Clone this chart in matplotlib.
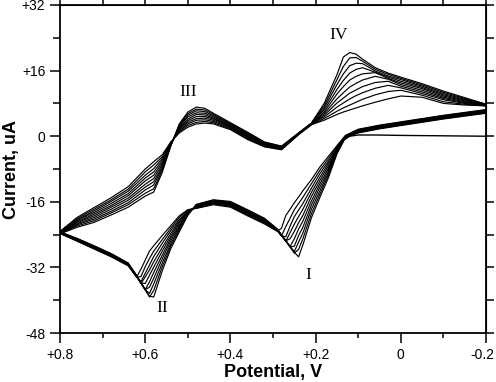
import numpy as np
import matplotlib.pyplot as plt
import matplotlib.transforms as mtransforms
from matplotlib.ticker import MultipleLocator, FixedLocator

# potential grids (V)
upper_V = [0.80, 0.76, 0.72, 0.68, 0.64, 0.60, 0.58, 0.56, 0.54, 0.52, 0.50,
           0.48, 0.46, 0.44, 0.40, 0.36, 0.32, 0.28, 0.24, 0.21, 0.18, 0.15,
           0.135, 0.12, 0.105, 0.09, 0.06, 0.03, 0.00, -0.05, -0.10, -0.15,
           -0.20]
lower_V = [-0.20, -0.15, -0.10, -0.05, 0.00, 0.05, 0.10, 0.13, 0.15, 0.17,
           0.19, 0.21, 0.23, 0.24, 0.25, 0.26, 0.27, 0.28, 0.29, 0.32, 0.36,
           0.40, 0.44, 0.48, 0.50, 0.52, 0.54, 0.56, 0.58, 0.59, 0.60, 0.61,
           0.62, 0.64, 0.68, 0.72, 0.76, 0.80]

# current (uA), one row per potential, one column per cycle
upper_I = [
    [-23.8, -23.7, -23.6, -23.5, -23.5, -23.4, -23.4, -23.3, -23.3, -23.2],
    [-22.2, -21.9, -21.6, -21.4, -21.1, -20.9, -20.6, -20.4, -20.1, -19.8],
    [-21.0, -20.6, -20.2, -19.8, -19.4, -19.0, -18.6, -18.2, -17.8, -17.4],
    [-19.2, -18.7, -18.3, -17.8, -17.3, -16.9, -16.4, -15.9, -15.5, -15.0],
    [-17.3, -16.7, -16.2, -15.6, -15.1, -14.5, -14.0, -13.4, -12.9, -12.3],
    [-14.6, -13.9, -13.1, -12.4, -11.7, -10.9, -10.2, -9.5, -8.7, -8.0],
    [-13.6, -12.8, -11.9, -11.1, -10.3, -9.5, -8.7, -7.9, -7.0, -6.2],
    [-8.8, -8.3, -7.8, -7.4, -6.9, -6.4, -5.9, -5.4, -5.0, -4.5],
    [-2.4, -2.3, -2.2, -2.1, -2.0, -1.9, -1.8, -1.7, -1.5, -1.4],
    [3.0, 2.8, 2.5, 2.3, 2.0, 1.8, 1.6, 1.3, 1.1, 0.8],
    [5.9, 5.5, 5.1, 4.7, 4.2, 3.8, 3.4, 3.0, 2.6, 2.2],
    [7.1, 6.6, 6.2, 5.7, 5.3, 4.8, 4.3, 3.9, 3.4, 3.0],
    [6.8, 6.4, 6.0, 5.6, 5.2, 4.8, 4.4, 4.0, 3.6, 3.2],
    [5.6, 5.3, 5.0, 4.7, 4.4, 4.2, 3.9, 3.6, 3.3, 3.0],
    [3.3, 3.1, 2.9, 2.7, 2.5, 2.4, 2.2, 2.0, 1.8, 1.6],
    [1.0, 0.8, 0.6, 0.4, 0.2, 0.0, -0.2, -0.4, -0.6, -0.8],
    [-1.4, -1.5, -1.7, -1.8, -1.9, -2.1, -2.2, -2.3, -2.5, -2.6],
    [-2.4, -2.5, -2.6, -2.7, -2.8, -2.9, -3.0, -3.1, -3.2, -3.3],
    [0.8, 0.8, 0.7, 0.7, 0.6, 0.6, 0.5, 0.5, 0.4, 0.4],
    [3.2, 3.2, 3.1, 3.1, 3.0, 3.0, 2.9, 2.9, 2.8, 2.8],
    [8.0, 7.4, 6.9, 6.4, 5.9, 5.5, 5.1, 4.7, 4.3, 3.9],
    [15.0, 13.8, 12.6, 11.4, 10.3, 9.1, 8.1, 7.1, 6.1, 5.3],
    [19.3, 17.0, 15.2, 13.6, 12.1, 10.6, 9.3, 8.1, 6.9, 5.9],
    [20.4, 19.1, 17.2, 15.4, 13.7, 12.0, 10.5, 9.1, 7.6, 6.4],
    [20.0, 19.2, 17.8, 16.3, 14.6, 12.9, 11.3, 9.9, 8.3, 6.9],
    [18.8, 18.3, 17.7, 16.7, 15.2, 13.7, 12.1, 10.6, 9.0, 7.4],
    [16.7, 16.3, 15.9, 15.6, 15.5, 14.6, 13.1, 11.7, 10.1, 8.3],
    [15.4, 15.1, 14.7, 14.4, 14.1, 13.9, 13.4, 12.4, 10.9, 9.1],
    [14.4, 14.1, 13.8, 13.4, 13.0, 12.6, 12.2, 11.8, 11.2, 9.8],
    [12.8, 12.5, 12.2, 11.9, 11.6, 11.2, 10.8, 10.4, 10.0, 9.5],
    [11.0, 10.7, 10.4, 10.1, 9.8, 9.5, 9.2, 8.9, 8.4, 8.0],
    [9.4, 9.2, 9.0, 8.8, 8.6, 8.4, 8.2, 8.0, 7.8, 7.6],
    [7.8, 7.8, 7.7, 7.7, 7.6, 7.6, 7.5, 7.5, 7.4, 7.4],
]
lower_I = [
    [5.6, 5.7, 5.8, 5.9, 6.0, 6.1, 6.2, 6.3, 6.4, 6.5],
    [4.9, 5.0, 5.1, 5.2, 5.3, 5.4, 5.5, 5.6, 5.7, 5.8],
    [4.2, 4.3, 4.4, 4.5, 4.6, 4.7, 4.8, 4.9, 5.0, 5.1],
    [3.4, 3.5, 3.6, 3.7, 3.8, 3.9, 4.0, 4.1, 4.2, 4.3],
    [2.6, 2.7, 2.8, 2.9, 3.0, 3.1, 3.2, 3.3, 3.4, 3.5],
    [1.8, 1.9, 2.0, 2.1, 2.2, 2.3, 2.4, 2.5, 2.6, 2.7],
    [0.8, 0.9, 1.0, 1.1, 1.2, 1.3, 1.4, 1.5, 1.6, 1.7],
    [-0.3, -0.2, -0.2, -0.1, -0.1, 0.0, 0.0, 0.1, 0.1, 0.2],
    [-4.3, -4.1, -3.8, -3.6, -3.4, -3.2, -3.0, -2.8, -2.5, -2.3],
    [-10.1, -9.5, -8.9, -8.4, -7.8, -7.2, -6.6, -6.1, -5.5, -4.9],
    [-14.9, -14.1, -13.3, -12.4, -11.6, -10.8, -10.0, -9.1, -8.3, -7.5],
    [-19.9, -18.9, -17.8, -16.8, -15.8, -14.7, -13.7, -12.7, -11.6, -10.6],
    [-26.5, -25.0, -23.6, -22.2, -20.7, -19.3, -17.8, -16.4, -14.9, -13.3],
    [-29.4, -27.6, -25.8, -24.2, -22.6, -21.1, -19.6, -18.0, -16.4, -14.8],
    [-28.3, -28.5, -28.1, -26.8, -25.0, -23.2, -21.4, -19.6, -17.9, -16.2],
    [-26.9, -27.0, -27.0, -27.0, -26.9, -25.0, -23.5, -21.9, -20.0, -17.8],
    [-25.5, -25.5, -25.5, -25.5, -25.5, -25.5, -25.6, -24.5, -22.0, -19.3],
    [-24.1, -24.1, -24.2, -24.2, -24.2, -24.2, -24.3, -24.3, -24.3, -22.4],
    [-22.6, -22.7, -22.7, -22.8, -22.8, -22.9, -22.9, -23.0, -23.1, -23.2],
    [-20.0, -20.2, -20.3, -20.5, -20.6, -20.8, -20.9, -21.1, -21.2, -21.4],
    [-17.9, -18.1, -18.2, -18.4, -18.6, -18.7, -18.9, -19.1, -19.2, -19.4],
    [-15.9, -16.1, -16.2, -16.4, -16.5, -16.7, -16.8, -17.0, -17.1, -17.3],
    [-15.5, -15.6, -15.8, -15.9, -16.0, -16.1, -16.3, -16.4, -16.5, -16.7],
    [-16.6, -16.7, -16.8, -16.9, -17.0, -17.1, -17.2, -17.4, -17.5, -17.6],
    [-19.3, -19.1, -18.9, -18.8, -18.6, -18.5, -18.3, -18.2, -18.0, -17.9],
    [-23.3, -22.9, -22.4, -22.0, -21.6, -21.1, -20.7, -20.3, -19.8, -19.4],
    [-27.4, -26.8, -26.2, -25.5, -24.9, -24.3, -23.7, -23.0, -22.4, -21.8],
    [-32.8, -31.8, -30.9, -29.9, -29.0, -28.0, -27.1, -26.1, -25.2, -24.2],
    [-39.2, -37.6, -36.0, -34.6, -33.2, -31.9, -30.6, -29.3, -28.0, -26.7],
    [-39.0, -39.2, -38.3, -36.8, -35.5, -33.9, -32.6, -31.4, -29.8, -28.0],
    [-37.4, -37.4, -37.5, -37.4, -37.4, -35.9, -34.3, -33.4, -31.8, -30.2],
    [-35.7, -35.7, -35.8, -35.8, -35.8, -35.8, -35.9, -35.5, -34.2, -32.4],
    [-34.0, -34.0, -34.1, -34.1, -34.2, -34.2, -34.3, -34.3, -34.4, -34.3],
    [-30.9, -31.0, -31.1, -31.1, -31.2, -31.3, -31.4, -31.4, -31.5, -31.6],
    [-28.6, -28.7, -28.8, -28.9, -29.0, -29.0, -29.1, -29.2, -29.3, -29.4],
    [-26.7, -26.8, -26.9, -27.0, -27.1, -27.1, -27.2, -27.3, -27.4, -27.5],
    [-24.9, -25.0, -25.0, -25.1, -25.2, -25.3, -25.4, -25.4, -25.5, -25.6],
    [-23.3, -23.4, -23.4, -23.5, -23.5, -23.5, -23.6, -23.6, -23.7, -23.7],
]

# first sweep, starting from rest
first_V = [-0.20, -0.10, 0.00, 0.06, 0.10, 0.12, 0.135, 0.15, 0.17]
first_I = [0.0, 0.1, 0.2, 0.3, 0.3, 0.0, -1.0, -3.2, -8.0]

peak_names = ['I', 'II', 'III', 'IV']
peak_V = [0.218, 0.561, 0.50, 0.147]
peak_I = [-33.9, -42.0, 10.8, 24.7]

xticks = [0.8, 0.6, 0.4, 0.2, 0.0, -0.2]
xticklabels = ['+0.8', '+0.6', '+0.4', '+0.2', '0', '-0.2']
yticks = [32, 16, 0, -16, -32, -48]
yticklabels = ['+32', '+16', '0', '-16', '-32', '-48']

plt.rcParams['font.family'] = ['Liberation Sans', 'DejaVu Sans']

fig = plt.figure(figsize=(4.96, 3.82), dpi=100)
ax = fig.add_axes([0.121, 0.128, 0.859, 0.859])

up = np.array(upper_I).T
lo = np.array(lower_I).T
for k in range(up.shape[0]):
    V = np.concatenate([lower_V, upper_V])
    I = np.concatenate([lo[k], up[k]])
    ax.plot(V, I, color='black', lw=0.85)
ax.plot(first_V, first_I, color='black', lw=1.0)

for name, v, i in zip(peak_names, peak_V, peak_I):
    ax.text(v, i, name, family='Liberation Serif', fontsize=12.5,
            ha='center', va='center')

ax.set_xlim(0.8, -0.2)
ax.set_ylim(-48, 32)
ax.xaxis.set_major_locator(FixedLocator(xticks))
ax.set_xticklabels(xticklabels)
ax.xaxis.set_minor_locator(MultipleLocator(0.1))
ax.yaxis.set_major_locator(FixedLocator(yticks))
ax.set_yticklabels(yticklabels)
ax.yaxis.set_minor_locator(MultipleLocator(8))

ax.tick_params(which='both', direction='out', width=1.1, labelsize=10,
               color='black')
ax.tick_params(axis='x', which='major', length=7)
ax.tick_params(axis='x', which='minor', length=3.5)
ax.tick_params(axis='y', which='major', length=7)
ax.tick_params(axis='y', which='minor', length=5)
for s in ax.spines.values():
    s.set_linewidth(1.3)

# top and right: plain ticks every 0.1 V and every 8 uA
top = ax.secondary_xaxis('top')
top.xaxis.set_major_locator(MultipleLocator(0.1))
top.tick_params(direction='out', length=5, width=1.1, labeltop=False)
right = ax.secondary_yaxis('right')
right.yaxis.set_major_locator(MultipleLocator(8))
right.tick_params(direction='out', length=6, width=1.1, labelright=False)

# keep the last x label inside the picture
lab = ax.get_xticklabels()[-1]
lab.set_transform(lab.get_transform() +
                  mtransforms.ScaledTranslation(-4 / 100, 0, fig.dpi_scale_trans))

ax.set_xlabel('Potential, V', fontsize=13, fontweight='bold', labelpad=2)
ax.set_ylabel('Current, uA', fontsize=13, fontweight='bold', labelpad=1)

fig.savefig('out.png', dpi=100)
